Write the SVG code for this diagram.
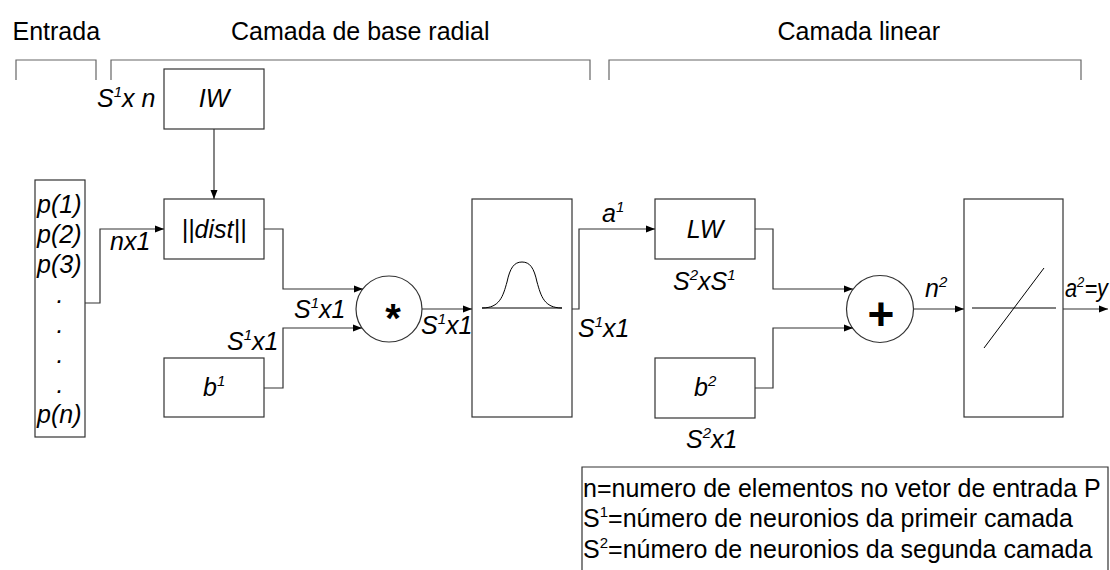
<svg xmlns="http://www.w3.org/2000/svg" width="1110" height="570" viewBox="0 0 1110 570">
<style>
text{font-family:"Liberation Sans",Arial,sans-serif;font-size:25px;fill:#000}
.it{font-style:italic}
.sup{font-size:15px}
.box{fill:#fff;stroke:#333;stroke-width:1.2}
.br{fill:none;stroke:#666;stroke-width:1.2}
.ln{fill:none;stroke:#333;stroke-width:1.2}
.fn{fill:none;stroke:#000;stroke-width:1}
</style>
<defs>
<marker id="ah" markerUnits="userSpaceOnUse" markerWidth="9" markerHeight="8" refX="9" refY="4" orient="auto">
<path d="M0,0.5 L9,4 L0,7.5 z" fill="#000"/>
</marker>
</defs>
<rect width="1110" height="570" fill="#fff"/>

<g id="headers">
<text x="12.5" y="40">Entrada</text>
<text x="231" y="40">Camada de base radial</text>
<text x="777.5" y="40">Camada linear</text>
<path class="br" d="M16,80 V60 H96 V80"/>
<path class="br" d="M111,80 V60 H590 V80"/>
<path class="br" d="M609,80 V60 H1081 V80"/>
</g>

<g id="input">
<rect class="box" x="35" y="180" width="50" height="257"/>
<text class="it" x="37" y="213">p(1)</text>
<text class="it" x="37" y="243">p(2)</text>
<text class="it" x="37" y="273">p(3)</text>
<text class="it" x="60" y="303" text-anchor="middle">.</text>
<text class="it" x="60" y="333" text-anchor="middle">.</text>
<text class="it" x="60" y="363" text-anchor="middle">.</text>
<text class="it" x="60" y="393" text-anchor="middle">.</text>
<text class="it" x="37" y="423">p(n)</text>
</g>

<g id="IW">
<rect class="box" x="164" y="69" width="100" height="60"/>
<text class="it" x="214" y="107" text-anchor="middle">IW</text>
<text class="it" x="97" y="107">S<tspan class="sup" dy="-10">1</tspan><tspan dy="10">x n</tspan></text>
</g>

<g id="dist">
<rect class="box" x="164" y="199" width="100" height="60"/>
<text class="it" x="214" y="238" text-anchor="middle">||dist||</text>
</g>

<g id="b1">
<rect class="box" x="164" y="358" width="100" height="59"/>
<text class="it" x="203" y="396">b<tspan class="sup" dy="-10">1</tspan></text>
</g>

<g id="mult">
<circle cx="389" cy="309" r="33" fill="#fff" stroke="#333" stroke-width="1.2"/>
<text x="393" y="332" text-anchor="middle" style="font-size:40px;font-weight:bold">*</text>
</g>

<g id="radbas">
<rect class="box" x="472" y="199" width="100" height="218"/>
<path class="fn" d="M482,308 H562"/>
<path class="fn" d="M482,308 C500,308 503,296 507,282 C510,268 514,262 522,262 C530,262 534,268 537,282 C541,296 544,308 562,308"/>
</g>

<g id="LW">
<rect class="box" x="655" y="199" width="100" height="60"/>
<text class="it" x="705" y="238" text-anchor="middle">LW</text>
</g>

<g id="b2">
<rect class="box" x="655" y="358" width="100" height="60"/>
<text class="it" x="694" y="396">b<tspan class="sup" dy="-10">2</tspan></text>
</g>

<g id="sum">
<circle cx="880" cy="309" r="33.5" fill="#fff" stroke="#333" stroke-width="1.2"/>
<text x="881" y="330" text-anchor="middle" style="font-size:46px;font-weight:bold">+</text>
</g>

<g id="purelin">
<rect class="box" x="964" y="199" width="99" height="218"/>
<path class="fn" d="M972,308 H1056"/>
<path class="fn" d="M984,348 L1044,268"/>
</g>

<g id="connectors">
<path class="ln" d="M214,129 V199" marker-end="url(#ah)"/>
<path class="ln" d="M85,303 H100 V229 H164" marker-end="url(#ah)"/>
<path class="ln" d="M264,229 H283 V289 H363" marker-end="url(#ah)"/>
<path class="ln" d="M264,388 H283 V328 H362" marker-end="url(#ah)"/>
<path class="ln" d="M422,309 H472" marker-end="url(#ah)"/>
<path class="ln" d="M572,309 H579 V229 H655" marker-end="url(#ah)"/>
<path class="ln" d="M755,229 H773 V289 H853" marker-end="url(#ah)"/>
<path class="ln" d="M755,388 H773 V328 H853" marker-end="url(#ah)"/>
<path class="ln" d="M913.5,309 H964" marker-end="url(#ah)"/>
<path class="ln" d="M1063,309 H1108" marker-end="url(#ah)"/>
</g>

<g id="labels">
<text class="it" x="110" y="250">nx1</text>
<text class="it" x="294" y="318">S<tspan class="sup" dy="-10">1</tspan><tspan dy="10">x1</tspan></text>
<text class="it" x="227" y="350">S<tspan class="sup" dy="-10">1</tspan><tspan dy="10">x1</tspan></text>
<text class="it" x="421" y="334">S<tspan class="sup" dy="-10">1</tspan><tspan dy="10">x1</tspan></text>
<text class="it" x="602" y="222">a<tspan class="sup" dy="-10">1</tspan></text>
<text class="it" x="578" y="337">S<tspan class="sup" dy="-10">1</tspan><tspan dy="10">x1</tspan></text>
<text class="it" x="673" y="290">S<tspan class="sup" dy="-10">2</tspan><tspan dy="10">xS</tspan><tspan class="sup" dy="-10">1</tspan></text>
<text class="it" x="686" y="448">S<tspan class="sup" dy="-10">2</tspan><tspan dy="10">x1</tspan></text>
<text class="it" x="925" y="297">n<tspan class="sup" dy="-10">2</tspan></text>
<text class="it" x="1065" y="297" textLength="43" lengthAdjust="spacingAndGlyphs">a<tspan class="sup" dy="-10">2</tspan><tspan dy="10">=y</tspan></text>
</g>

<g id="legend">
<path class="ln" d="M582,575 V467 H1108 V575"/>
<text x="583" y="497">n=numero de elementos no vetor de entrada P</text>
<text x="583" y="527">S<tspan style="font-size:15px" dy="-10">1</tspan><tspan dy="10">=número de neuronios da primeir camada</tspan></text>
<text x="583" y="558">S<tspan style="font-size:15px" dy="-10">2</tspan><tspan dy="10">=número de neuronios da segunda camada</tspan></text>
</g>
</svg>
